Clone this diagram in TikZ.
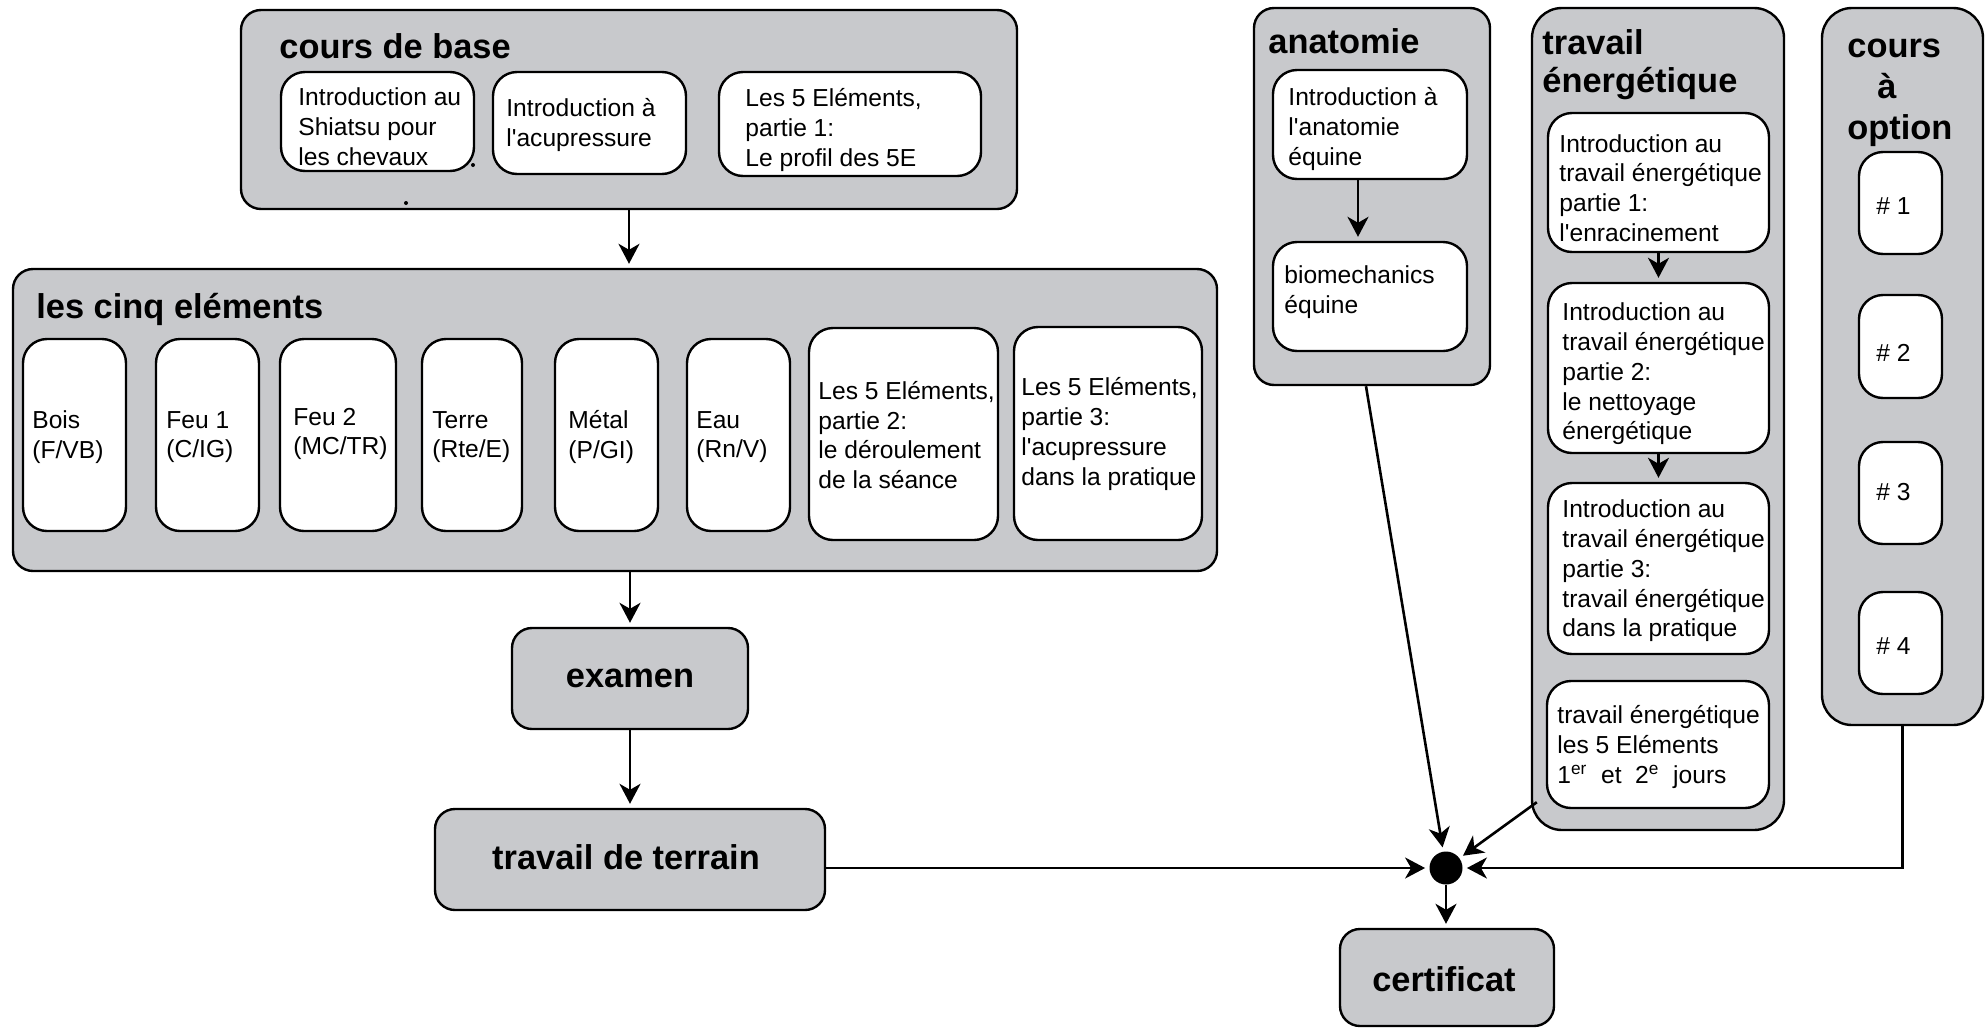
\documentclass[tikz,border=0pt]{standalone}
\usepackage{fontspec}
\setmainfont{Liberation Sans}
\usetikzlibrary{arrows.meta}
\definecolor{boxgray}{RGB}{200,201,204}
\newcommand\mkbox[6]{%
  \pgfmathsetmacro\bxw{(#5-#3)*0.5}%
  \pgfmathsetmacro\bxh{(#6-#4)*0.5}%
  \node[#1, minimum width=\bxw pt, minimum height=\bxh pt, inner sep=0pt] (#2) at ({(#3+#5)/2},{(#4+#6)/2}) {};%
}
\newcommand\ap{\textquotesingle}
\tikzset{
  grp/.style={draw=black, fill=boxgray, line width=1.2pt, rounded corners=10pt},
  card/.style={draw=black, fill=white, line width=1.2pt, rounded corners=12pt},
  txt/.style={anchor=west, align=left, inner sep=0pt, yshift=-1.5pt, font=\fontsize{12.3pt}{14.9pt}\selectfont},
  ttl/.style={anchor=west, align=left, inner sep=0pt, font=\bfseries\fontsize{17.2pt}{19pt}\selectfont},
  ttlc/.style={inner sep=0pt, font=\bfseries\fontsize{17.2pt}{19pt}\selectfont},
  conn/.style={line width=1.3pt, shorten >=2pt, -{Stealth[length=10pt,width=10.5pt,inset=3pt]}},
}
\begin{document}
\begin{tikzpicture}[x=0.5pt,y=-0.5pt]
\useasboundingbox (0,0) rectangle (1988,1029);
% group boxes
\mkbox{grp}{cb}{241}{10}{1017}{209}
\mkbox{grp}{lc}{13}{269}{1217}{571}
\mkbox{grp}{ex}{512}{628}{748}{729}
\mkbox{grp}{tt}{435}{809}{825}{910}
\mkbox{grp}{ce}{1340}{929}{1554}{1026}
\mkbox{grp}{an}{1254}{8}{1490}{385}
\mkbox{grp,rounded corners=15pt}{te}{1532}{8}{1784}{830}
\mkbox{grp,rounded corners=15pt}{co}{1822}{8}{1983}{725}
% titles
\node[ttl] (cbT) at (279,46) {cours de base};
\node[ttl] (lcT) at (36,309) {les cinq eléments};
\node[ttl] (anT) at (1268,41) {anatomie};
\node[ttl, font=\bfseries\fontsize{17.2pt}{19pt}\selectfont] (teT) at (1542,65) {travail\\énergétique};
\node[ttl, font=\bfseries\fontsize{17.2pt}{20.6pt}\selectfont] (coT) at (1847,93) {cours\\\hspace*{15pt}à\\option};
\node[ttlc] (exT) at (ex) {examen};
\node[ttlc] (ttT) at (626,857) {travail de terrain};
\node[ttlc] (ceT) at (1444,979) {certificat};
% cours de base cards
\mkbox{card}{b1}{281}{72}{474}{171}
\mkbox{card}{b2}{493}{72}{686}{174}
\mkbox{card}{b3}{719}{72}{981}{176}
\node[txt] (b1T) at (298,124) {Introduction au\\Shiatsu pour\\les chevaux};
\node[txt] (b2T) at (506,122) {Introduction à\\l\ap acupressure};
\node[txt] (b3T) at (745,127) {Les 5 Eléments,\\partie 1:\\Le profil des 5E};
\fill (473,165) circle (1pt);
\fill (406,203) circle (1pt);
% cinq elements cards
\mkbox{card}{e1}{23}{339}{126}{531}
\mkbox{card}{e2}{156}{339}{259}{531}
\mkbox{card}{e3}{280}{339}{396}{531}
\mkbox{card}{e4}{422}{339}{522}{531}
\mkbox{card}{e5}{555}{339}{658}{531}
\mkbox{card}{e6}{687}{339}{790}{531}
\mkbox{card}{e7}{809}{328}{998}{540}
\mkbox{card}{e8}{1014}{327}{1202}{540}
\node[txt] (e1T) at (32,434) {Bois\\(F/VB)};
\node[txt] (e2T) at (166,434) {Feu 1\\(C/IG)};
\node[txt] (e3T) at (293,431) {Feu 2\\(MC/TR)};
\node[txt] (e4T) at (432,434) {Terre\\(Rte/E)};
\node[txt] (e5T) at (568,434) {Métal\\(P/GI)};
\node[txt] (e6T) at (696,434) {Eau\\(Rn/V)};
\node[txt] (e7T) at (818,432) {Les 5 Eléments,\\partie 2:\\le déroulement\\de la séance};
\node[txt] (e8T) at (1021,431) {Les 5 Eléments,\\partie 3:\\l\ap acupressure\\dans la pratique};
% anatomie
\mkbox{card}{a1}{1273}{70}{1467}{179}
\mkbox{card}{a2}{1273}{242}{1467}{351}
\node[txt] (a1T) at (1288,126) {Introduction à\\l\ap anatomie\\équine};
\node[txt] (a2T) at (1284,289) {biomechanics\\équine};
% travail energetique
\mkbox{card}{t1}{1548}{113}{1769}{252}
\mkbox{card}{t2}{1548}{283}{1769}{453}
\mkbox{card}{t3}{1548}{483}{1769}{654}
\mkbox{card}{t4}{1547}{681}{1769}{808}
\node[txt] (t1T) at (1559,185) {Introduction au\\travail énergétique\\partie 1:\\l\ap enracinement};
\node[txt] (t2T) at (1562,371) {Introduction au\\travail énergétique\\partie 2:\\le nettoyage\\énergétique};
\node[txt] (t3T) at (1562,568) {Introduction au\\travail énergétique\\partie 3:\\travail énergétique\\dans la pratique};
\node[txt] (t4T) at (1557,744) {travail énergétique\\les 5 Eléments\\1\textsuperscript{er}\ \ et\ \ 2\textsuperscript{e}\ \ jours};
% cours a option
\mkbox{card}{o1}{1859}{152}{1942}{254}
\mkbox{card}{o2}{1859}{295}{1942}{398}
\mkbox{card}{o3}{1859}{442}{1942}{544}
\mkbox{card}{o4}{1859}{592}{1942}{694}
\node[txt] (o1T) at (1876,203) {\# 1};
\node[txt] (o2T) at (1876,350) {\# 2};
\node[txt] (o3T) at (1876,489) {\# 3};
\node[txt] (o4T) at (1876,643) {\# 4};
% junction
\node[circle, fill=black, minimum size=16.5pt, inner sep=0pt] (dot) at (1446,868) {};
% connectors
\draw[conn] (cb.south) -- (cb.south |- lc.north);
\draw[conn] (ex.north |- lc.south) -- (ex.north);
\draw[conn] (ex.south) -- (tt.north -| ex.south);
\draw[conn] (tt.east |- dot) -- (dot.west);
\draw[conn] (co.south) |- (dot.east);
\draw[conn] ([xshift=-3pt]an.south) -- (dot);
\draw[conn] ([xshift=3pt,yshift=14.5pt]te.south west) -- (dot);
\draw[conn] (dot.south) -- (ce.north -| dot.south);
\draw[conn] ([xshift=-6pt]a1.south) -- ([xshift=-6pt]a2.north);
\draw[conn] (t1.south) -- (t2.north);
\draw[conn] (t2.south) -- (t3.north);
\end{tikzpicture}
\end{document}
